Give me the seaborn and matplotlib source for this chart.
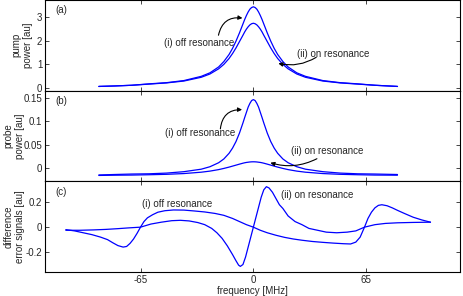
import numpy as np
import pandas as pd
import matplotlib
matplotlib.use("Agg")
import matplotlib.pyplot as plt
import seaborn as sns

# ---- data ----
# panels (a) and (b): common frequency grid [MHz]
freq_ab = [-89, -80, -70, -60, -50, -40, -30, -25, -20, -17, -14, -12, -10, -8,
           -6, -5, -4, -3, -2, -1, 0, 1, 2, 3, 4, 5, 6, 8, 10, 12, 14, 17, 20,
           25, 30, 40, 50, 60, 70, 83]
pump_off = [0.05, 0.07, 0.10, 0.16, 0.21, 0.30, 0.48, 0.63, 0.88, 1.11, 1.41,
            1.67, 1.98, 2.33, 2.71, 2.90, 3.07, 3.22, 3.34, 3.41, 3.44, 3.41,
            3.34, 3.22, 3.07, 2.90, 2.71, 2.33, 1.98, 1.67, 1.41, 1.11, 0.88,
            0.63, 0.48, 0.30, 0.21, 0.16, 0.10, 0.05]
pump_on = [0.05, 0.07, 0.10, 0.15, 0.20, 0.28, 0.44, 0.58, 0.80, 0.99, 1.24,
           1.45, 1.69, 1.96, 2.23, 2.37, 2.49, 2.59, 2.67, 2.72, 2.74, 2.72,
           2.67, 2.59, 2.49, 2.37, 2.23, 1.96, 1.69, 1.45, 1.24, 0.99, 0.80,
           0.58, 0.44, 0.28, 0.20, 0.15, 0.10, 0.05]
probe_off = [-0.014, -0.013, -0.012, -0.0115, -0.010, -0.007, -0.0017, 0.0035,
             0.012, 0.020, 0.032, 0.043, 0.057, 0.075, 0.0965, 0.108, 0.119,
             0.130, 0.138, 0.144, 0.146, 0.144, 0.138, 0.130, 0.119, 0.108,
             0.0965, 0.075, 0.057, 0.043, 0.032, 0.020, 0.012, 0.0035, -0.0017,
             -0.007, -0.010, -0.0115, -0.012, -0.013]
probe_on = [-0.015, -0.0145, -0.0142, -0.0135, -0.0126, -0.011, -0.0081,
            -0.0058, -0.0026, -0.0001, 0.0027, 0.0048, 0.0069, 0.009, 0.011,
            0.0119, 0.0126, 0.0131, 0.0136, 0.0139, 0.014, 0.0139, 0.0136,
            0.0131, 0.0126, 0.0119, 0.011, 0.009, 0.0069, 0.0048, 0.0027,
            -0.0001, -0.0026, -0.0058, -0.0081, -0.011, -0.0126, -0.0135,
            -0.0142, -0.0145]

# panel (c): error signals
freq_err_off = [-108, -103, -98, -93, -88, -84, -81, -78, -75, -73, -71, -69,
                -67, -65, -63, -61, -58, -55, -51, -46, -40, -34, -28, -22,
                -17, -12, -8, -4, 0, 4, 8, 13, 18, 23, 28, 34, 40, 46, 52, 56,
                59, 61.5, 64, 66, 68, 70, 72, 74, 77, 80, 83, 87, 92, 97, 102]
err_off = [-0.02, -0.03, -0.045, -0.06, -0.08, -0.10, -0.125, -0.148, -0.16,
           -0.155, -0.13, -0.095, -0.05, 0.0, 0.045, 0.075, 0.10, 0.12, 0.132,
           0.138, 0.137, 0.13, 0.122, 0.11, 0.095, 0.07, 0.045, 0.02, 0.0,
           -0.025, -0.045, -0.065, -0.082, -0.095, -0.105, -0.115, -0.122,
           -0.128, -0.133, -0.135, -0.12, -0.08, 0.0, 0.07, 0.12, 0.155, 0.175,
           0.18, 0.172, 0.155, 0.135, 0.11, 0.08, 0.058, 0.04]
freq_err_on = [-108, -100, -92, -85, -78, -72, -65, -59, -53, -47, -42, -37,
               -32, -28, -24, -21, -18, -15, -12, -10, -8.5, -7.5, -6, -4.5,
               -3, -1.5, 0, 1.5, 3, 4.5, 6, 7.5, 9, 11, 13, 15, 17, 20, 24, 28,
               32, 37, 42, 48, 54, 59, 64, 70, 76, 83, 92, 102]
err_on = [-0.025, -0.025, -0.022, -0.018, -0.012, -0.006, 0.0, 0.025, 0.04,
          0.052, 0.055, 0.05, 0.037, 0.02, -0.01, -0.045, -0.09, -0.15, -0.22,
          -0.27, -0.305, -0.315, -0.30, -0.24, -0.16, -0.08, 0.0, 0.08, 0.16,
          0.24, 0.30, 0.325, 0.315, 0.28, 0.23, 0.18, 0.15, 0.09, 0.045, 0.02,
          -0.01, -0.025, -0.04, -0.045, -0.04, -0.03, 0.0, 0.02, 0.03, 0.035,
          0.038, 0.04]

x_ticks = [-65, 0, 65]
x_ticklabels = ["-65", "0", "65"]
pump_ticks = [0, 1, 2, 3]
pump_ticklabels = ["0", "1", "2", "3"]
probe_ticks = [0, 0.05, 0.1, 0.15]
probe_ticklabels = ["0", "0.05", "0.1", "0.15"]
err_ticks = [-0.2, 0, 0.2]
err_ticklabels = ["-0.2", "0", "0.2"]

# ---- style ----
sns.set_style("ticks")
plt.rcParams['font.family'] = ['Liberation Sans', 'DejaVu Sans']
plt.rcParams['font.size'] = 7
plt.rcParams['axes.unicode_minus'] = False
plt.rcParams['axes.linewidth'] = 0.8

fig = plt.figure(figsize=(4.63, 2.96), dpi=100)
left, width, height = 0.0972, 0.8963, 0.3063
ax_a = fig.add_axes([left, 0.0811 + 2 * height, width, height])
ax_b = fig.add_axes([left, 0.0811 + height, width, height])
ax_c = fig.add_axes([left, 0.0811, width, height])

line_kw = dict(color="blue", linewidth=0.9, sort=False, estimator=None)

# (a) pump power
sns.lineplot(x=freq_ab, y=pump_off, ax=ax_a, **line_kw)
sns.lineplot(x=freq_ab, y=pump_on, ax=ax_a, **line_kw)
ax_a.set_ylim(-0.13, 3.73)
ax_a.set_yticks(pump_ticks, pump_ticklabels)
ax_a.set_ylabel("pump\npower [au]")
ax_a.yaxis.set_label_coords(-0.029, 0.5)

# (b) probe power
sns.lineplot(x=freq_ab, y=probe_off, ax=ax_b, **line_kw)
sns.lineplot(x=freq_ab, y=probe_on, ax=ax_b, **line_kw)
ax_b.set_ylim(-0.0275, 0.165)
ax_b.set_yticks(probe_ticks, probe_ticklabels)
ax_b.set_ylabel("probe\npower [au]")
ax_b.yaxis.set_label_coords(-0.048, 0.5)

# (c) difference error signals
sns.lineplot(x=freq_err_off, y=err_off, ax=ax_c, **line_kw)
sns.lineplot(x=freq_err_on, y=err_on, ax=ax_c, **line_kw)
ax_c.set_ylim(-0.36, 0.368)
ax_c.set_yticks(err_ticks, err_ticklabels)
ax_c.set_ylabel("difference\nerror signals [au]")
ax_c.yaxis.set_label_coords(-0.047, 0.5)
ax_c.set_xlabel("frequency [MHz]", labelpad=1)

for ax, tag in zip([ax_a, ax_b, ax_c], ["(a)", "(b)", "(c)"]):
    ax.set_xlim(-120, 119)
    ax.set_xticks(x_ticks, x_ticklabels)
    ax.tick_params(direction="in", top=True, right=True, length=3,
                   width=0.6, pad=2, labelsize=7)
    ax.text(0.024, 0.885, tag, transform=ax.transAxes, va="center", ha="left")
    for s in ax.spines.values():
        s.set_visible(True)
        s.set_color("black")
for ax in [ax_a, ax_b]:
    ax.tick_params(labelbottom=False)
    ax.set_xlabel("")

arrow_kw = dict(arrowstyle="-|>", color="black", lw=0.8, mutation_scale=6,
                shrinkA=0, shrinkB=0)

# annotations (a)
ax_a.text(-31.4, 1.90, "(i) off resonance", ha="center", va="center")
ax_a.annotate("", xy=(-6.3, 2.96), xytext=(-20.1, 2.23),
              arrowprops=dict(connectionstyle="arc3,rad=-0.45", **arrow_kw))
ax_a.text(46, 1.41, "(ii) on resonance", ha="center", va="center")
ax_a.annotate("", xy=(14.4, 1.03), xytext=(36.2, 1.29),
              arrowprops=dict(connectionstyle="arc3,rad=-0.2", **arrow_kw))

# annotations (b)
ax_b.text(-30.8, 0.0755, "(i) off resonance", ha="center", va="center")
ax_b.annotate("", xy=(-6.5, 0.1247), xytext=(-19, 0.0839),
              arrowprops=dict(connectionstyle="arc3,rad=-0.45", **arrow_kw))
ax_b.text(42.6, 0.036, "(ii) on resonance", ha="center", va="center")
ax_b.annotate("", xy=(9.8, 0.012), xytext=(36.6, 0.0205),
              arrowprops=dict(connectionstyle="arc3,rad=-0.2", **arrow_kw))

# annotations (c)
ax_c.text(-44, 0.184, "(i) off resonance", ha="center", va="center")
ax_c.text(36.5, 0.256, "(ii) on resonance", ha="center", va="center")

fig.savefig("out.png", dpi=100)
